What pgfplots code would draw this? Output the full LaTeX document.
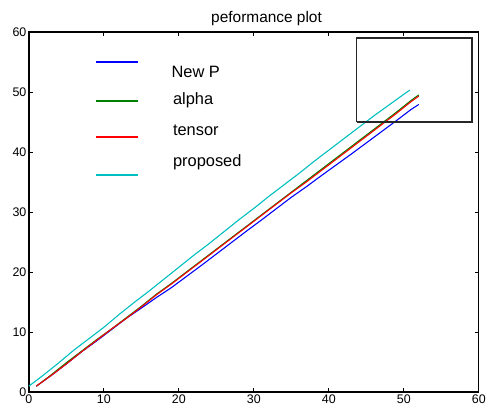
\documentclass[border=0pt]{standalone}
\usepackage{pgfplots}
\pgfplotsset{compat=1.18}
\usepackage{fontspec}
\setmainfont{Liberation Sans}
\usetikzlibrary{calc}
\definecolor{mplblue}{RGB}{0,0,255}
\definecolor{mplgreen}{RGB}{0,128,0}
\definecolor{mplred}{RGB}{255,0,0}
\definecolor{mplcyan}{RGB}{0,191,191}

\begin{document}
\begin{tikzpicture}
\begin{axis}[
  scale only axis,
  width=452pt, height=362pt,
  xmin=0, xmax=60, ymin=0, ymax=60,
  xtick={0,10,...,60}, ytick={0,10,...,60},
  tick align=inside, major tick length=4pt,
  tick style={black, line width=0.8pt},
  axis line style={black, line width=1.4pt},
  ticklabel style={font=\fontsize{12.5}{14}\selectfont},
  /pgf/number format/assume math mode=true,
  xticklabel style={yshift=1pt},
  yticklabel style={xshift=1pt},
  clip=false,
]

% --- legend keys, drawn as short plots ---
\addplot[mplblue, line width=1.5pt, forget plot] coordinates {(8.9,55.0) (14.5,55.0)};
\addplot[mplgreen, line width=1.5pt, forget plot] coordinates {(8.9,48.5) (14.5,48.5)};
\addplot[mplred, line width=1.5pt, forget plot] coordinates {(8.9,42.5) (14.5,42.5)};
\addplot[mplcyan, line width=1.5pt, forget plot] coordinates {(8.9,36.2) (14.5,36.2)};

% --- the four runs ---
\addplot[mplblue, line width=1.1pt] coordinates {
  (1,1.0) (3,2.8) (5,4.7) (7,6.7) (9,8.5) (11,10.4) (13,12.3) (15,14.0)
  (17,15.75) (19,17.4) (21,19.25) (23,21.1) (25,23.0) (27,24.9) (29,26.8)
  (31,28.65) (33,30.55) (35,32.45) (37,34.2) (39,36.05) (41,37.85)
  (43,39.65) (45,41.5) (47,43.35) (49,45.2) (51,47.1) (52,47.9)};
\addplot[mplgreen, line width=1.1pt] coordinates {
  (1,1.0) (3,2.9) (5,4.9) (7,6.8) (9,8.7) (11,10.5) (13,12.4) (15,14.3)
  (17,16.3) (19,18.1) (21,20.0) (23,21.9) (25,23.8) (27,25.7) (29,27.6)
  (31,29.5) (33,31.4) (35,33.3) (37,35.2) (39,37.1) (41,39.0) (43,40.9)
  (45,42.8) (47,44.7) (49,46.6) (51,48.6) (52,49.5)};
\addplot[mplred, line width=1.1pt] coordinates {
  (1,1.0) (3,2.8) (5,4.7) (7,6.7) (9,8.6) (11,10.5) (13,12.3) (15,14.2)
  (17,16.2) (19,18.0) (21,19.9) (23,21.8) (25,23.7) (27,25.6) (29,27.5)
  (31,29.4) (33,31.3) (35,33.2) (37,35.0) (39,36.9) (41,38.8) (43,40.7)
  (45,42.6) (47,44.5) (49,46.4) (51,48.4) (52,49.3)};
\addplot[mplcyan, line width=1.1pt] coordinates {
  (0,1.0) (2,2.9) (4,4.9) (6,7.0) (8,8.9) (10,10.8) (12,12.9) (14,14.9)
  (16,16.8) (18,18.8) (20,20.8) (22,22.8) (24,24.7) (26,26.7) (28,28.7)
  (30,30.6) (32,32.6) (34,34.5) (36,36.4) (38,38.4) (40,40.3) (42,42.2)
  (44,44.1) (46,46.0) (48,47.8) (50,49.6) (50.8,50.3)};

% --- zoom box ---
\addplot[black!85, line width=1.4pt] coordinates {
  (43.7,45.0) (59.1,45.0) (59.1,59.0) (43.7,59.0) (43.7,45.0)};

\begin{scope}[every node/.style={anchor=west, inner sep=0pt,
    font=\fontsize{16.5}{18}\selectfont}]
  \node at (axis cs:19.0,53.4) {New P};
  \node at (axis cs:19.2,48.6) {alpha};
  \node at (axis cs:19.2,43.6) {tensor};
  \node at (axis cs:19.2,38.3) {proposed};
\end{scope}

\node[font=\fontsize{15.5}{17}\selectfont, anchor=base, inner sep=0pt]
  at (axis cs:31.7,61.5) {peformance plot};
\end{axis}
\path ($(current axis.south west)+(-29pt,-21pt)$) rectangle
      ($(current axis.north east)+(8pt,32pt)$);
\end{tikzpicture}
\end{document}
